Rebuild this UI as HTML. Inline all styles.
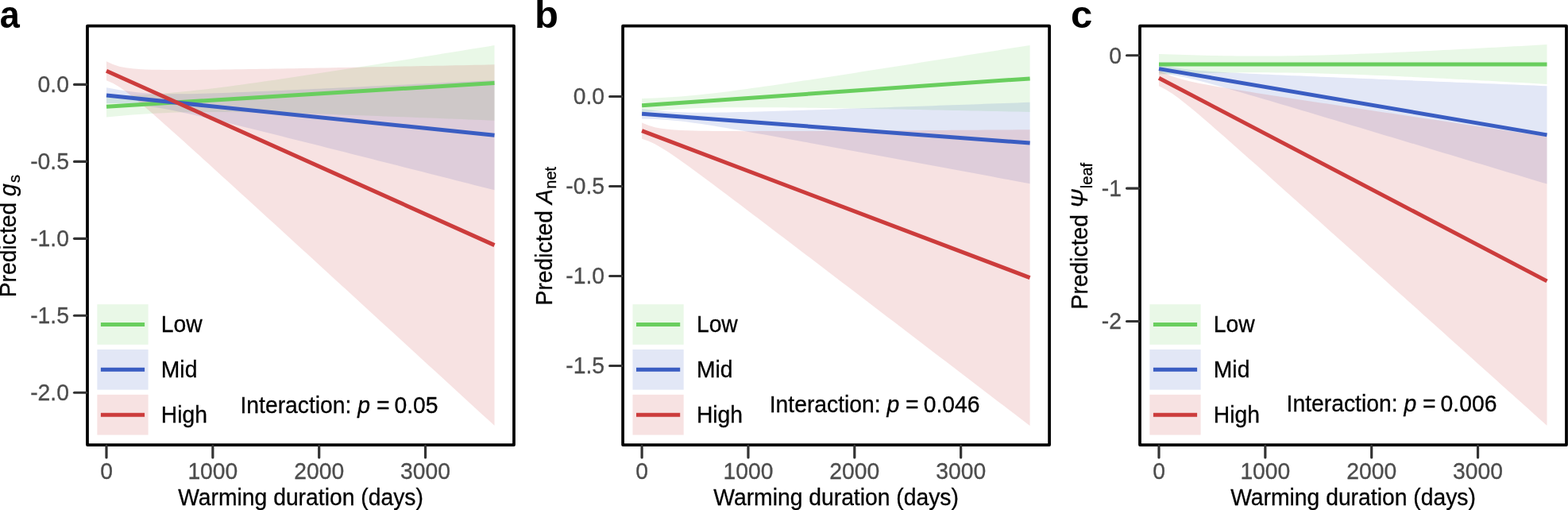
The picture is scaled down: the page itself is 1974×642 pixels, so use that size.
<!DOCTYPE html><html><head><meta charset="utf-8"><title>Predicted responses to warming duration</title><style>html,body{margin:0;padding:0;background:#fff;overflow:hidden}svg{display:block}text{font-family:"Liberation Sans", Arial, Helvetica, sans-serif}</style></head><body>
<svg width="1974" height="642" viewBox="0 0 1974 642">
<rect width="1974" height="642" fill="#fff"/>
<g>
<path d="M134 120.99 L142.14 120.82 L150.28 120.6 L158.43 120.33 L166.57 120.01 L174.71 119.62 L182.85 119.18 L190.99 118.68 L199.13 118.11 L207.28 117.49 L215.42 116.81 L223.56 116.08 L231.7 115.29 L239.84 114.46 L247.98 113.58 L256.12 112.66 L264.27 111.7 L272.41 110.71 L280.55 109.69 L288.69 108.63 L296.83 107.56 L304.98 106.46 L313.12 105.34 L321.26 104.2 L329.4 103.04 L337.54 101.87 L345.68 100.69 L353.82 99.49 L361.97 98.29 L370.11 97.07 L378.25 95.85 L386.39 94.61 L394.53 93.37 L402.68 92.12 L410.82 90.87 L418.96 89.61 L427.1 88.34 L435.24 87.07 L443.38 85.8 L451.52 84.52 L459.67 83.23 L467.81 81.95 L475.95 80.66 L484.09 79.36 L492.23 78.07 L500.38 76.77 L508.52 75.47 L516.66 74.16 L524.8 72.86 L532.94 71.55 L541.08 70.24 L549.23 68.93 L557.37 67.62 L565.51 66.3 L573.65 64.99 L581.79 63.67 L589.93 62.35 L598.08 61.03 L606.22 59.71 L614.36 58.39 L622.5 57.06 L622.5 151.74 L614.36 151.41 L606.22 151.08 L598.08 150.76 L589.93 150.44 L581.79 150.11 L573.65 149.79 L565.51 149.47 L557.37 149.16 L549.23 148.84 L541.08 148.52 L532.94 148.21 L524.8 147.9 L516.66 147.59 L508.52 147.29 L500.38 146.98 L492.23 146.68 L484.09 146.38 L475.95 146.08 L467.81 145.79 L459.67 145.5 L451.52 145.21 L443.38 144.93 L435.24 144.65 L427.1 144.38 L418.96 144.11 L410.82 143.85 L402.68 143.59 L394.53 143.34 L386.39 143.09 L378.25 142.85 L370.11 142.63 L361.97 142.41 L353.82 142.2 L345.68 142 L337.54 141.81 L329.4 141.64 L321.26 141.48 L313.12 141.34 L304.98 141.21 L296.83 141.11 L288.69 141.03 L280.55 140.97 L272.41 140.95 L264.27 140.95 L256.12 140.99 L247.98 141.07 L239.84 141.18 L231.7 141.35 L223.56 141.56 L215.42 141.82 L207.28 142.14 L199.13 142.51 L190.99 142.95 L182.85 143.44 L174.71 143.99 L166.57 144.61 L158.43 145.28 L150.28 146 L142.14 146.78 L134 147.61Z" fill="#69ce5e" fill-opacity="0.15"/>
<path d="M134 110.27 L142.14 111.82 L150.28 113.23 L158.43 114.5 L166.57 115.59 L174.71 116.49 L182.85 117.19 L190.99 117.7 L199.13 118.05 L207.28 118.25 L215.42 118.34 L223.56 118.34 L231.7 118.27 L239.84 118.14 L247.98 117.96 L256.12 117.75 L264.27 117.51 L272.41 117.25 L280.55 116.96 L288.69 116.67 L296.83 116.36 L304.98 116.03 L313.12 115.7 L321.26 115.36 L329.4 115.02 L337.54 114.66 L345.68 114.31 L353.82 113.95 L361.97 113.58 L370.11 113.21 L378.25 112.84 L386.39 112.46 L394.53 112.09 L402.68 111.71 L410.82 111.32 L418.96 110.94 L427.1 110.55 L435.24 110.17 L443.38 109.78 L451.52 109.39 L459.67 109 L467.81 108.61 L475.95 108.21 L484.09 107.82 L492.23 107.43 L500.38 107.03 L508.52 106.63 L516.66 106.24 L524.8 105.84 L532.94 105.44 L541.08 105.04 L549.23 104.65 L557.37 104.25 L565.51 103.85 L573.65 103.45 L581.79 103.04 L589.93 102.64 L598.08 102.24 L606.22 101.84 L614.36 101.44 L622.5 101.04 L622.5 239.36 L614.36 237.29 L606.22 235.22 L598.08 233.15 L589.93 231.08 L581.79 229.01 L573.65 226.93 L565.51 224.86 L557.37 222.79 L549.23 220.72 L541.08 218.66 L532.94 216.59 L524.8 214.52 L516.66 212.45 L508.52 210.39 L500.38 208.32 L492.23 206.25 L484.09 204.19 L475.95 202.13 L467.81 200.06 L459.67 198 L451.52 195.94 L443.38 193.88 L435.24 191.82 L427.1 189.77 L418.96 187.71 L410.82 185.66 L402.68 183.6 L394.53 181.55 L386.39 179.51 L378.25 177.46 L370.11 175.42 L361.97 173.38 L353.82 171.34 L345.68 169.31 L337.54 167.29 L329.4 165.26 L321.26 163.25 L313.12 161.24 L304.98 159.24 L296.83 157.24 L288.69 155.26 L280.55 153.3 L272.41 151.34 L264.27 149.41 L256.12 147.5 L247.98 145.62 L239.84 143.77 L231.7 141.97 L223.56 140.23 L215.42 138.56 L207.28 136.98 L199.13 135.51 L190.99 134.19 L182.85 133.03 L174.71 132.06 L166.57 131.29 L158.43 130.71 L150.28 130.31 L142.14 130.05 L134 129.93Z" fill="#3a5dc2" fill-opacity="0.15"/>
<path d="M134 77.3 L142.14 81.06 L150.28 83.64 L158.43 85.29 L166.57 86.34 L174.71 87 L182.85 87.42 L190.99 87.69 L199.13 87.86 L207.28 87.96 L215.42 88.01 L223.56 88.01 L231.7 88 L239.84 87.95 L247.98 87.89 L256.12 87.82 L264.27 87.74 L272.41 87.64 L280.55 87.54 L288.69 87.43 L296.83 87.32 L304.98 87.2 L313.12 87.07 L321.26 86.95 L329.4 86.82 L337.54 86.68 L345.68 86.55 L353.82 86.41 L361.97 86.27 L370.11 86.13 L378.25 85.99 L386.39 85.84 L394.53 85.7 L402.68 85.55 L410.82 85.4 L418.96 85.26 L427.1 85.11 L435.24 84.96 L443.38 84.81 L451.52 84.65 L459.67 84.5 L467.81 84.35 L475.95 84.2 L484.09 84.04 L492.23 83.89 L500.38 83.73 L508.52 83.58 L516.66 83.42 L524.8 83.27 L532.94 83.11 L541.08 82.95 L549.23 82.8 L557.37 82.64 L565.51 82.48 L573.65 82.32 L581.79 82.16 L589.93 82.01 L598.08 81.85 L606.22 81.69 L614.36 81.53 L622.5 81.37 L622.5 535.83 L614.36 528.36 L606.22 520.89 L598.08 513.42 L589.93 505.95 L581.79 498.49 L573.65 491.02 L565.51 483.55 L557.37 476.08 L549.23 468.61 L541.08 461.15 L532.94 453.68 L524.8 446.21 L516.66 438.75 L508.52 431.28 L500.38 423.82 L492.23 416.35 L484.09 408.89 L475.95 401.42 L467.81 393.96 L459.67 386.5 L451.52 379.04 L443.38 371.57 L435.24 364.11 L427.1 356.65 L418.96 349.19 L410.82 341.74 L402.68 334.28 L394.53 326.82 L386.39 319.37 L378.25 311.91 L370.11 304.46 L361.97 297.01 L353.82 289.56 L345.68 282.11 L337.54 274.67 L329.4 267.22 L321.26 259.78 L313.12 252.35 L304.98 244.91 L296.83 237.48 L288.69 230.06 L280.55 222.64 L272.41 215.23 L264.27 207.82 L256.12 200.43 L247.98 193.05 L239.84 185.68 L231.7 178.32 L223.56 171 L215.42 163.69 L207.28 156.43 L199.13 149.22 L190.99 142.08 L182.85 135.04 L174.71 128.15 L166.57 121.5 L158.43 115.24 L150.28 109.58 L142.14 104.85 L134 101.3Z" fill="#cc3c3c" fill-opacity="0.15"/>
<line x1="134" y1="134.3" x2="622.5" y2="104.4" stroke="#69ce5e" stroke-width="5"/>
<line x1="134" y1="120.1" x2="622.5" y2="170.2" stroke="#3a5dc2" stroke-width="5"/>
<line x1="134" y1="89.3" x2="622.5" y2="308.6" stroke="#cc3c3c" stroke-width="5"/>
<rect x="122.4" y="383.1" width="64.2" height="50.7" fill="#69ce5e" fill-opacity="0.15"/>
<line x1="126.9" y1="408.45" x2="182.1" y2="408.45" stroke="#69ce5e" stroke-width="5"/>
<text transform="translate(202.8 418.35) scale(1 1.04)" font-size="28.3" fill="#000" stroke="#000" stroke-width="0.3">Low</text>
<rect x="122.4" y="439.95" width="64.2" height="50.7" fill="#3a5dc2" fill-opacity="0.15"/>
<line x1="126.9" y1="465.3" x2="182.1" y2="465.3" stroke="#3a5dc2" stroke-width="5"/>
<text transform="translate(202.8 475.2) scale(1 1.04)" font-size="28.3" fill="#000" stroke="#000" stroke-width="0.3">Mid</text>
<rect x="122.4" y="496.8" width="64.2" height="50.7" fill="#cc3c3c" fill-opacity="0.15"/>
<line x1="126.9" y1="522.15" x2="182.1" y2="522.15" stroke="#cc3c3c" stroke-width="5"/>
<text transform="translate(202.8 532.05) scale(1 1.04)" font-size="28.3" fill="#000" stroke="#000" stroke-width="0.3">High</text>
<text transform="translate(427 520) scale(1 1.04)" font-size="28.3" fill="#000" stroke="#000" stroke-width="0.3" text-anchor="middle">Interaction: <tspan font-style="italic">p</tspan> =<tspan dx="-1.8"> 0.05</tspan></text>
<rect x="110" y="32.6" width="537" height="527.4" fill="none" stroke="#000" stroke-width="3.75" stroke-linejoin="round"/>
<line x1="134" y1="561.2" x2="134" y2="576" stroke="#333333" stroke-width="3.2" stroke-linecap="round"/>
<text transform="translate(134 603.2) scale(1 1.07)" font-size="28.3" fill="#4d4d4d" stroke="#4d4d4d" stroke-width="0.3" text-anchor="middle">0</text>
<line x1="267.85" y1="561.2" x2="267.85" y2="576" stroke="#333333" stroke-width="3.2" stroke-linecap="round"/>
<text transform="translate(267.85 603.2) scale(1 1.07)" font-size="28.3" fill="#4d4d4d" stroke="#4d4d4d" stroke-width="0.3" text-anchor="middle">1000</text>
<line x1="401.7" y1="561.2" x2="401.7" y2="576" stroke="#333333" stroke-width="3.2" stroke-linecap="round"/>
<text transform="translate(401.7 603.2) scale(1 1.07)" font-size="28.3" fill="#4d4d4d" stroke="#4d4d4d" stroke-width="0.3" text-anchor="middle">2000</text>
<line x1="535.55" y1="561.2" x2="535.55" y2="576" stroke="#333333" stroke-width="3.2" stroke-linecap="round"/>
<text transform="translate(535.55 603.2) scale(1 1.07)" font-size="28.3" fill="#4d4d4d" stroke="#4d4d4d" stroke-width="0.3" text-anchor="middle">3000</text>
<line x1="108.8" y1="106.4" x2="93.5" y2="106.4" stroke="#333333" stroke-width="3.1" stroke-linecap="round"/>
<text transform="translate(86.9 116.2) scale(1 1.07)" font-size="28.3" fill="#4d4d4d" stroke="#4d4d4d" stroke-width="0.3" text-anchor="end">0.0</text>
<line x1="108.8" y1="203.38" x2="93.5" y2="203.38" stroke="#333333" stroke-width="3.1" stroke-linecap="round"/>
<text transform="translate(86.9 213.18) scale(1 1.07)" font-size="28.3" fill="#4d4d4d" stroke="#4d4d4d" stroke-width="0.3" text-anchor="end">-0.5</text>
<line x1="108.8" y1="300.35" x2="93.5" y2="300.35" stroke="#333333" stroke-width="3.1" stroke-linecap="round"/>
<text transform="translate(86.9 310.15) scale(1 1.07)" font-size="28.3" fill="#4d4d4d" stroke="#4d4d4d" stroke-width="0.3" text-anchor="end">-1.0</text>
<line x1="108.8" y1="397.32" x2="93.5" y2="397.32" stroke="#333333" stroke-width="3.1" stroke-linecap="round"/>
<text transform="translate(86.9 407.12) scale(1 1.07)" font-size="28.3" fill="#4d4d4d" stroke="#4d4d4d" stroke-width="0.3" text-anchor="end">-1.5</text>
<line x1="108.8" y1="494.3" x2="93.5" y2="494.3" stroke="#333333" stroke-width="3.1" stroke-linecap="round"/>
<text transform="translate(86.9 504.1) scale(1 1.07)" font-size="28.3" fill="#4d4d4d" stroke="#4d4d4d" stroke-width="0.3" text-anchor="end">-2.0</text>
<text transform="translate(378.5 635.5) scale(1 1.04)" font-size="28.3" fill="#000" stroke="#000" stroke-width="0.3" text-anchor="middle">Warming duration (days)</text>
<text transform="translate(19.7 297.2) rotate(-90) scale(1 1.04)" font-size="28.3" fill="#000" stroke="#000" stroke-width="0.3" text-anchor="middle">Predicted <tspan font-style="italic">g</tspan><tspan font-size="20" dx="1.1" dy="5.4">s</tspan></text>
<text transform="translate(-0.2 34.7) scale(0.92 1)" font-size="49" font-weight="bold" fill="#000">a</text>
</g>
<g>
<path d="M808.1 124.1 L816.24 123.82 L824.38 123.48 L832.52 123.08 L840.67 122.61 L848.81 122.07 L856.95 121.45 L865.09 120.77 L873.23 120.02 L881.38 119.21 L889.52 118.34 L897.66 117.42 L905.8 116.45 L913.94 115.44 L922.08 114.4 L930.23 113.33 L938.37 112.23 L946.51 111.11 L954.65 109.97 L962.79 108.81 L970.93 107.64 L979.08 106.46 L987.22 105.26 L995.36 104.05 L1003.5 102.84 L1011.64 101.61 L1019.78 100.38 L1027.92 99.15 L1036.07 97.9 L1044.21 96.66 L1052.35 95.4 L1060.49 94.15 L1068.63 92.89 L1076.78 91.63 L1084.92 90.36 L1093.06 89.09 L1101.2 87.82 L1109.34 86.55 L1117.48 85.27 L1125.62 83.99 L1133.77 82.72 L1141.91 81.43 L1150.05 80.15 L1158.19 78.87 L1166.33 77.58 L1174.47 76.3 L1182.62 75.01 L1190.76 73.72 L1198.9 72.43 L1207.04 71.14 L1215.18 69.85 L1223.32 68.56 L1231.47 67.27 L1239.61 65.97 L1247.75 64.68 L1255.89 63.38 L1264.03 62.09 L1272.17 60.79 L1280.32 59.49 L1288.46 58.2 L1296.6 56.9 L1296.6 140.9 L1288.46 140.73 L1280.32 140.56 L1272.17 140.39 L1264.03 140.22 L1255.89 140.05 L1247.75 139.88 L1239.61 139.71 L1231.47 139.55 L1223.32 139.38 L1215.18 139.22 L1207.04 139.05 L1198.9 138.89 L1190.76 138.72 L1182.62 138.56 L1174.47 138.4 L1166.33 138.24 L1158.19 138.08 L1150.05 137.93 L1141.91 137.77 L1133.77 137.62 L1125.62 137.47 L1117.48 137.31 L1109.34 137.17 L1101.2 137.02 L1093.06 136.87 L1084.92 136.73 L1076.78 136.59 L1068.63 136.46 L1060.49 136.33 L1052.35 136.2 L1044.21 136.07 L1036.07 135.95 L1027.92 135.83 L1019.78 135.72 L1011.64 135.62 L1003.5 135.52 L995.36 135.43 L987.22 135.35 L979.08 135.28 L970.93 135.23 L962.79 135.18 L954.65 135.15 L946.51 135.14 L938.37 135.14 L930.23 135.17 L922.08 135.22 L913.94 135.31 L905.8 135.43 L897.66 135.59 L889.52 135.8 L881.38 136.05 L873.23 136.37 L865.09 136.74 L856.95 137.19 L848.81 137.7 L840.67 138.29 L832.52 138.94 L824.38 139.67 L816.24 140.45 L808.1 141.3Z" fill="#69ce5e" fill-opacity="0.15"/>
<path d="M808.1 136.9 L816.24 137.97 L824.38 138.92 L832.52 139.75 L840.67 140.43 L848.81 140.95 L856.95 141.33 L865.09 141.57 L873.23 141.71 L881.38 141.77 L889.52 141.75 L897.66 141.69 L905.8 141.58 L913.94 141.44 L922.08 141.28 L930.23 141.1 L938.37 140.9 L946.51 140.69 L954.65 140.47 L962.79 140.24 L970.93 140 L979.08 139.75 L987.22 139.5 L995.36 139.25 L1003.5 138.99 L1011.64 138.73 L1019.78 138.46 L1027.92 138.2 L1036.07 137.93 L1044.21 137.66 L1052.35 137.38 L1060.49 137.11 L1068.63 136.83 L1076.78 136.55 L1084.92 136.27 L1093.06 135.99 L1101.2 135.71 L1109.34 135.43 L1117.48 135.15 L1125.62 134.86 L1133.77 134.58 L1141.91 134.29 L1150.05 134.01 L1158.19 133.72 L1166.33 133.44 L1174.47 133.15 L1182.62 132.86 L1190.76 132.57 L1198.9 132.28 L1207.04 132 L1215.18 131.71 L1223.32 131.42 L1231.47 131.13 L1239.61 130.84 L1247.75 130.55 L1255.89 130.26 L1264.03 129.97 L1272.17 129.68 L1280.32 129.39 L1288.46 129.09 L1296.6 128.8 L1296.6 231.2 L1288.46 229.68 L1280.32 228.17 L1272.17 226.65 L1264.03 225.14 L1255.89 223.63 L1247.75 222.11 L1239.61 220.6 L1231.47 219.09 L1223.32 217.57 L1215.18 216.06 L1207.04 214.55 L1198.9 213.04 L1190.76 211.52 L1182.62 210.01 L1174.47 208.5 L1166.33 206.99 L1158.19 205.48 L1150.05 203.97 L1141.91 202.46 L1133.77 200.95 L1125.62 199.45 L1117.48 197.94 L1109.34 196.43 L1101.2 194.93 L1093.06 193.42 L1084.92 191.92 L1076.78 190.42 L1068.63 188.92 L1060.49 187.42 L1052.35 185.92 L1044.21 184.42 L1036.07 182.93 L1027.92 181.43 L1019.78 179.94 L1011.64 178.45 L1003.5 176.97 L995.36 175.49 L987.22 174.01 L979.08 172.54 L970.93 171.07 L962.79 169.61 L954.65 168.15 L946.51 166.71 L938.37 165.27 L930.23 163.85 L922.08 162.45 L913.94 161.06 L905.8 159.7 L897.66 158.37 L889.52 157.08 L881.38 155.84 L873.23 154.67 L865.09 153.59 L856.95 152.61 L848.81 151.77 L840.67 151.07 L832.52 150.52 L824.38 150.12 L816.24 149.86 L808.1 149.7Z" fill="#3a5dc2" fill-opacity="0.15"/>
<path d="M808.1 154.43 L816.24 157.81 L824.38 160.21 L832.52 161.8 L840.67 162.84 L848.81 163.53 L856.95 164 L865.09 164.33 L873.23 164.56 L881.38 164.74 L889.52 164.86 L897.66 164.95 L905.8 165.02 L913.94 165.07 L922.08 165.1 L930.23 165.12 L938.37 165.13 L946.51 165.13 L954.65 165.12 L962.79 165.11 L970.93 165.09 L979.08 165.07 L987.22 165.04 L995.36 165.02 L1003.5 164.98 L1011.64 164.95 L1019.78 164.92 L1027.92 164.88 L1036.07 164.84 L1044.21 164.8 L1052.35 164.76 L1060.49 164.71 L1068.63 164.67 L1076.78 164.62 L1084.92 164.58 L1093.06 164.53 L1101.2 164.48 L1109.34 164.44 L1117.48 164.39 L1125.62 164.34 L1133.77 164.29 L1141.91 164.24 L1150.05 164.18 L1158.19 164.13 L1166.33 164.08 L1174.47 164.03 L1182.62 163.98 L1190.76 163.92 L1198.9 163.87 L1207.04 163.82 L1215.18 163.76 L1223.32 163.71 L1231.47 163.65 L1239.61 163.6 L1247.75 163.54 L1255.89 163.49 L1264.03 163.43 L1272.17 163.38 L1280.32 163.32 L1288.46 163.27 L1296.6 163.21 L1296.6 535.99 L1288.46 529.77 L1280.32 523.54 L1272.17 517.32 L1264.03 511.1 L1255.89 504.88 L1247.75 498.66 L1239.61 492.43 L1231.47 486.21 L1223.32 479.99 L1215.18 473.77 L1207.04 467.55 L1198.9 461.33 L1190.76 455.11 L1182.62 448.89 L1174.47 442.67 L1166.33 436.45 L1158.19 430.23 L1150.05 424.02 L1141.91 417.8 L1133.77 411.58 L1125.62 405.36 L1117.48 399.15 L1109.34 392.93 L1101.2 386.72 L1093.06 380.5 L1084.92 374.29 L1076.78 368.08 L1068.63 361.86 L1060.49 355.65 L1052.35 349.44 L1044.21 343.23 L1036.07 337.03 L1027.92 330.82 L1019.78 324.62 L1011.64 318.42 L1003.5 312.22 L995.36 306.02 L987.22 299.82 L979.08 293.63 L970.93 287.44 L962.79 281.26 L954.65 275.08 L946.51 268.91 L938.37 262.74 L930.23 256.58 L922.08 250.44 L913.94 244.3 L905.8 238.18 L897.66 232.08 L889.52 226 L881.38 219.96 L873.23 213.97 L865.09 208.04 L856.95 202.2 L848.81 196.51 L840.67 191.03 L832.52 185.9 L824.38 181.33 L816.24 177.56 L808.1 174.77Z" fill="#cc3c3c" fill-opacity="0.15"/>
<line x1="808.1" y1="132.7" x2="1296.6" y2="98.9" stroke="#69ce5e" stroke-width="5"/>
<line x1="808.1" y1="143.3" x2="1296.6" y2="180" stroke="#3a5dc2" stroke-width="5"/>
<line x1="808.1" y1="164.6" x2="1296.6" y2="349.6" stroke="#cc3c3c" stroke-width="5"/>
<rect x="796.5" y="383.1" width="64.2" height="50.7" fill="#69ce5e" fill-opacity="0.15"/>
<line x1="801" y1="408.45" x2="856.2" y2="408.45" stroke="#69ce5e" stroke-width="5"/>
<text transform="translate(876.9 418.35) scale(1 1.04)" font-size="28.3" fill="#000" stroke="#000" stroke-width="0.3">Low</text>
<rect x="796.5" y="439.95" width="64.2" height="50.7" fill="#3a5dc2" fill-opacity="0.15"/>
<line x1="801" y1="465.3" x2="856.2" y2="465.3" stroke="#3a5dc2" stroke-width="5"/>
<text transform="translate(876.9 475.2) scale(1 1.04)" font-size="28.3" fill="#000" stroke="#000" stroke-width="0.3">Mid</text>
<rect x="796.5" y="496.8" width="64.2" height="50.7" fill="#cc3c3c" fill-opacity="0.15"/>
<line x1="801" y1="522.15" x2="856.2" y2="522.15" stroke="#cc3c3c" stroke-width="5"/>
<text transform="translate(876.9 532.05) scale(1 1.04)" font-size="28.3" fill="#000" stroke="#000" stroke-width="0.3">High</text>
<text transform="translate(1101.1 518.5) scale(1 1.04)" font-size="28.3" fill="#000" stroke="#000" stroke-width="0.3" text-anchor="middle">Interaction: <tspan font-style="italic">p</tspan> =<tspan dx="-1.8"> 0.046</tspan></text>
<rect x="784.1" y="32.6" width="537" height="527.4" fill="none" stroke="#000" stroke-width="3.75" stroke-linejoin="round"/>
<line x1="808.1" y1="561.2" x2="808.1" y2="576" stroke="#333333" stroke-width="3.2" stroke-linecap="round"/>
<text transform="translate(808.1 603.2) scale(1 1.07)" font-size="28.3" fill="#4d4d4d" stroke="#4d4d4d" stroke-width="0.3" text-anchor="middle">0</text>
<line x1="941.95" y1="561.2" x2="941.95" y2="576" stroke="#333333" stroke-width="3.2" stroke-linecap="round"/>
<text transform="translate(941.95 603.2) scale(1 1.07)" font-size="28.3" fill="#4d4d4d" stroke="#4d4d4d" stroke-width="0.3" text-anchor="middle">1000</text>
<line x1="1075.8" y1="561.2" x2="1075.8" y2="576" stroke="#333333" stroke-width="3.2" stroke-linecap="round"/>
<text transform="translate(1075.8 603.2) scale(1 1.07)" font-size="28.3" fill="#4d4d4d" stroke="#4d4d4d" stroke-width="0.3" text-anchor="middle">2000</text>
<line x1="1209.65" y1="561.2" x2="1209.65" y2="576" stroke="#333333" stroke-width="3.2" stroke-linecap="round"/>
<text transform="translate(1209.65 603.2) scale(1 1.07)" font-size="28.3" fill="#4d4d4d" stroke="#4d4d4d" stroke-width="0.3" text-anchor="middle">3000</text>
<line x1="782.9" y1="121.5" x2="767.6" y2="121.5" stroke="#333333" stroke-width="3.1" stroke-linecap="round"/>
<text transform="translate(761 131.3) scale(1 1.07)" font-size="28.3" fill="#4d4d4d" stroke="#4d4d4d" stroke-width="0.3" text-anchor="end">0.0</text>
<line x1="782.9" y1="234.49" x2="767.6" y2="234.49" stroke="#333333" stroke-width="3.1" stroke-linecap="round"/>
<text transform="translate(761 244.29) scale(1 1.07)" font-size="28.3" fill="#4d4d4d" stroke="#4d4d4d" stroke-width="0.3" text-anchor="end">-0.5</text>
<line x1="782.9" y1="347.47" x2="767.6" y2="347.47" stroke="#333333" stroke-width="3.1" stroke-linecap="round"/>
<text transform="translate(761 357.27) scale(1 1.07)" font-size="28.3" fill="#4d4d4d" stroke="#4d4d4d" stroke-width="0.3" text-anchor="end">-1.0</text>
<line x1="782.9" y1="460.45" x2="767.6" y2="460.45" stroke="#333333" stroke-width="3.1" stroke-linecap="round"/>
<text transform="translate(761 470.25) scale(1 1.07)" font-size="28.3" fill="#4d4d4d" stroke="#4d4d4d" stroke-width="0.3" text-anchor="end">-1.5</text>
<text transform="translate(1052.6 635.5) scale(1 1.04)" font-size="28.3" fill="#000" stroke="#000" stroke-width="0.3" text-anchor="middle">Warming duration (days)</text>
<text transform="translate(694.9 297.2) rotate(-90) scale(1 1.04)" font-size="28.3" fill="#000" stroke="#000" stroke-width="0.3" text-anchor="middle">Predicted <tspan font-style="italic">A</tspan><tspan font-size="20" dx="0.5" dy="5.0">net</tspan></text>
<text transform="translate(672.9 34.7) scale(1.0 1)" font-size="49" font-weight="bold" fill="#000">b</text>
</g>
<g>
<path d="M1459 67.96 L1467.14 68.26 L1475.28 68.54 L1483.42 68.81 L1491.57 69.07 L1499.71 69.31 L1507.85 69.53 L1515.99 69.73 L1524.13 69.91 L1532.28 70.07 L1540.42 70.21 L1548.56 70.32 L1556.7 70.42 L1564.84 70.49 L1572.98 70.53 L1581.12 70.55 L1589.27 70.55 L1597.41 70.52 L1605.55 70.46 L1613.69 70.39 L1621.83 70.29 L1629.97 70.16 L1638.12 70.02 L1646.26 69.85 L1654.4 69.66 L1662.54 69.45 L1670.68 69.23 L1678.83 68.99 L1686.97 68.73 L1695.11 68.46 L1703.25 68.17 L1711.39 67.87 L1719.53 67.55 L1727.67 67.23 L1735.82 66.89 L1743.96 66.55 L1752.1 66.19 L1760.24 65.83 L1768.38 65.46 L1776.53 65.08 L1784.67 64.7 L1792.81 64.3 L1800.95 63.91 L1809.09 63.5 L1817.23 63.09 L1825.38 62.68 L1833.52 62.26 L1841.66 61.84 L1849.8 61.41 L1857.94 60.98 L1866.08 60.55 L1874.22 60.11 L1882.37 59.67 L1890.51 59.23 L1898.65 58.79 L1906.79 58.34 L1914.93 57.89 L1923.08 57.44 L1931.22 56.98 L1939.36 56.53 L1947.5 56.07 L1947.5 105.93 L1939.36 105.47 L1931.22 105.01 L1923.08 104.55 L1914.93 104.1 L1906.79 103.64 L1898.65 103.19 L1890.51 102.74 L1882.37 102.3 L1874.22 101.86 L1866.08 101.42 L1857.94 100.98 L1849.8 100.55 L1841.66 100.12 L1833.52 99.69 L1825.38 99.27 L1817.23 98.85 L1809.09 98.44 L1800.95 98.03 L1792.81 97.63 L1784.67 97.24 L1776.53 96.85 L1768.38 96.47 L1760.24 96.09 L1752.1 95.73 L1743.96 95.37 L1735.82 95.02 L1727.67 94.68 L1719.53 94.35 L1711.39 94.04 L1703.25 93.73 L1695.11 93.44 L1686.97 93.16 L1678.83 92.9 L1670.68 92.66 L1662.54 92.43 L1654.4 92.22 L1646.26 92.03 L1638.12 91.86 L1629.97 91.71 L1621.83 91.58 L1613.69 91.48 L1605.55 91.4 L1597.41 91.34 L1589.27 91.31 L1581.12 91.3 L1572.98 91.32 L1564.84 91.36 L1556.7 91.42 L1548.56 91.51 L1540.42 91.63 L1532.28 91.76 L1524.13 91.92 L1515.99 92.1 L1507.85 92.29 L1499.71 92.51 L1491.57 92.75 L1483.42 93 L1475.28 93.26 L1467.14 93.54 L1459 93.84Z" fill="#69ce5e" fill-opacity="0.15"/>
<path d="M1459 81.18 L1467.14 82.96 L1475.28 84.53 L1483.42 85.87 L1491.57 86.99 L1499.71 87.91 L1507.85 88.69 L1515.99 89.35 L1524.13 89.94 L1532.28 90.47 L1540.42 90.95 L1548.56 91.41 L1556.7 91.84 L1564.84 92.26 L1572.98 92.66 L1581.12 93.05 L1589.27 93.43 L1597.41 93.8 L1605.55 94.17 L1613.69 94.53 L1621.83 94.89 L1629.97 95.24 L1638.12 95.59 L1646.26 95.94 L1654.4 96.29 L1662.54 96.63 L1670.68 96.97 L1678.83 97.31 L1686.97 97.65 L1695.11 97.99 L1703.25 98.33 L1711.39 98.66 L1719.53 99 L1727.67 99.33 L1735.82 99.67 L1743.96 100 L1752.1 100.33 L1760.24 100.66 L1768.38 100.99 L1776.53 101.32 L1784.67 101.65 L1792.81 101.98 L1800.95 102.31 L1809.09 102.64 L1817.23 102.97 L1825.38 103.3 L1833.52 103.63 L1841.66 103.96 L1849.8 104.28 L1857.94 104.61 L1866.08 104.94 L1874.22 105.27 L1882.37 105.59 L1890.51 105.92 L1898.65 106.25 L1906.79 106.57 L1914.93 106.9 L1923.08 107.23 L1931.22 107.55 L1939.36 107.88 L1947.5 108.2 L1947.5 231.6 L1939.36 229.15 L1931.22 226.7 L1923.08 224.24 L1914.93 221.79 L1906.79 219.34 L1898.65 216.89 L1890.51 214.44 L1882.37 211.99 L1874.22 209.54 L1866.08 207.09 L1857.94 204.64 L1849.8 202.2 L1841.66 199.75 L1833.52 197.3 L1825.38 194.85 L1817.23 192.4 L1809.09 189.95 L1800.95 187.51 L1792.81 185.06 L1784.67 182.61 L1776.53 180.17 L1768.38 177.72 L1760.24 175.27 L1752.1 172.83 L1743.96 170.38 L1735.82 167.94 L1727.67 165.5 L1719.53 163.06 L1711.39 160.61 L1703.25 158.17 L1695.11 155.73 L1686.97 153.29 L1678.83 150.86 L1670.68 148.42 L1662.54 145.99 L1654.4 143.55 L1646.26 141.12 L1638.12 138.7 L1629.97 136.27 L1621.83 133.85 L1613.69 131.43 L1605.55 129.01 L1597.41 126.6 L1589.27 124.2 L1581.12 121.8 L1572.98 119.42 L1564.84 117.04 L1556.7 114.68 L1548.56 112.33 L1540.42 110.01 L1532.28 107.72 L1524.13 105.47 L1515.99 103.28 L1507.85 101.17 L1499.71 99.17 L1491.57 97.32 L1483.42 95.66 L1475.28 94.22 L1467.14 93.01 L1459 92.02Z" fill="#3a5dc2" fill-opacity="0.15"/>
<path d="M1459 88.23 L1467.14 92.53 L1475.28 95.93 L1483.42 98.62 L1491.57 100.82 L1499.71 102.72 L1507.85 104.42 L1515.99 106 L1524.13 107.49 L1532.28 108.92 L1540.42 110.3 L1548.56 111.66 L1556.7 112.99 L1564.84 114.3 L1572.98 115.6 L1581.12 116.88 L1589.27 118.16 L1597.41 119.42 L1605.55 120.68 L1613.69 121.94 L1621.83 123.19 L1629.97 124.43 L1638.12 125.68 L1646.26 126.92 L1654.4 128.15 L1662.54 129.38 L1670.68 130.62 L1678.83 131.85 L1686.97 133.07 L1695.11 134.3 L1703.25 135.53 L1711.39 136.75 L1719.53 137.97 L1727.67 139.2 L1735.82 140.42 L1743.96 141.64 L1752.1 142.86 L1760.24 144.07 L1768.38 145.29 L1776.53 146.51 L1784.67 147.73 L1792.81 148.94 L1800.95 150.16 L1809.09 151.37 L1817.23 152.59 L1825.38 153.8 L1833.52 155.02 L1841.66 156.23 L1849.8 157.45 L1857.94 158.66 L1866.08 159.87 L1874.22 161.09 L1882.37 162.3 L1890.51 163.51 L1898.65 164.72 L1906.79 165.94 L1914.93 167.15 L1923.08 168.36 L1931.22 169.57 L1939.36 170.78 L1947.5 171.99 L1947.5 535.81 L1939.36 528.5 L1931.22 521.18 L1923.08 513.87 L1914.93 506.56 L1906.79 499.25 L1898.65 491.94 L1890.51 484.63 L1882.37 477.31 L1874.22 470 L1866.08 462.69 L1857.94 455.38 L1849.8 448.07 L1841.66 440.76 L1833.52 433.45 L1825.38 426.15 L1817.23 418.84 L1809.09 411.53 L1800.95 404.22 L1792.81 396.91 L1784.67 389.61 L1776.53 382.3 L1768.38 374.99 L1760.24 367.69 L1752.1 360.38 L1743.96 353.08 L1735.82 345.78 L1727.67 338.47 L1719.53 331.17 L1711.39 323.87 L1703.25 316.57 L1695.11 309.28 L1686.97 301.98 L1678.83 294.68 L1670.68 287.39 L1662.54 280.1 L1654.4 272.81 L1646.26 265.52 L1638.12 258.24 L1629.97 250.96 L1621.83 243.68 L1613.69 236.4 L1605.55 229.14 L1597.41 221.87 L1589.27 214.62 L1581.12 207.37 L1572.98 200.13 L1564.84 192.9 L1556.7 185.69 L1548.56 178.5 L1540.42 171.33 L1532.28 164.19 L1524.13 157.1 L1515.99 150.07 L1507.85 143.12 L1499.71 136.3 L1491.57 129.67 L1483.42 123.35 L1475.28 117.52 L1467.14 112.39 L1459 108.17Z" fill="#cc3c3c" fill-opacity="0.15"/>
<line x1="1459" y1="80.9" x2="1947.5" y2="81" stroke="#69ce5e" stroke-width="5"/>
<line x1="1459" y1="86.6" x2="1947.5" y2="169.9" stroke="#3a5dc2" stroke-width="5"/>
<line x1="1459" y1="98.2" x2="1947.5" y2="353.9" stroke="#cc3c3c" stroke-width="5"/>
<rect x="1447.4" y="383.1" width="64.2" height="50.7" fill="#69ce5e" fill-opacity="0.15"/>
<line x1="1451.9" y1="408.45" x2="1507.1" y2="408.45" stroke="#69ce5e" stroke-width="5"/>
<text transform="translate(1527.8 418.35) scale(1 1.04)" font-size="28.3" fill="#000" stroke="#000" stroke-width="0.3">Low</text>
<rect x="1447.4" y="439.95" width="64.2" height="50.7" fill="#3a5dc2" fill-opacity="0.15"/>
<line x1="1451.9" y1="465.3" x2="1507.1" y2="465.3" stroke="#3a5dc2" stroke-width="5"/>
<text transform="translate(1527.8 475.2) scale(1 1.04)" font-size="28.3" fill="#000" stroke="#000" stroke-width="0.3">Mid</text>
<rect x="1447.4" y="496.8" width="64.2" height="50.7" fill="#cc3c3c" fill-opacity="0.15"/>
<line x1="1451.9" y1="522.15" x2="1507.1" y2="522.15" stroke="#cc3c3c" stroke-width="5"/>
<text transform="translate(1527.8 532.05) scale(1 1.04)" font-size="28.3" fill="#000" stroke="#000" stroke-width="0.3">High</text>
<text transform="translate(1752 517.5) scale(1 1.04)" font-size="28.3" fill="#000" stroke="#000" stroke-width="0.3" text-anchor="middle">Interaction: <tspan font-style="italic">p</tspan> =<tspan dx="-1.8"> 0.006</tspan></text>
<rect x="1435" y="32.6" width="537" height="527.4" fill="none" stroke="#000" stroke-width="3.75" stroke-linejoin="round"/>
<line x1="1459" y1="561.2" x2="1459" y2="576" stroke="#333333" stroke-width="3.2" stroke-linecap="round"/>
<text transform="translate(1459 603.2) scale(1 1.07)" font-size="28.3" fill="#4d4d4d" stroke="#4d4d4d" stroke-width="0.3" text-anchor="middle">0</text>
<line x1="1592.85" y1="561.2" x2="1592.85" y2="576" stroke="#333333" stroke-width="3.2" stroke-linecap="round"/>
<text transform="translate(1592.85 603.2) scale(1 1.07)" font-size="28.3" fill="#4d4d4d" stroke="#4d4d4d" stroke-width="0.3" text-anchor="middle">1000</text>
<line x1="1726.7" y1="561.2" x2="1726.7" y2="576" stroke="#333333" stroke-width="3.2" stroke-linecap="round"/>
<text transform="translate(1726.7 603.2) scale(1 1.07)" font-size="28.3" fill="#4d4d4d" stroke="#4d4d4d" stroke-width="0.3" text-anchor="middle">2000</text>
<line x1="1860.55" y1="561.2" x2="1860.55" y2="576" stroke="#333333" stroke-width="3.2" stroke-linecap="round"/>
<text transform="translate(1860.55 603.2) scale(1 1.07)" font-size="28.3" fill="#4d4d4d" stroke="#4d4d4d" stroke-width="0.3" text-anchor="middle">3000</text>
<line x1="1433.8" y1="69.7" x2="1418.5" y2="69.7" stroke="#333333" stroke-width="3.1" stroke-linecap="round"/>
<text transform="translate(1411.9 79.5) scale(1 1.07)" font-size="28.3" fill="#4d4d4d" stroke="#4d4d4d" stroke-width="0.3" text-anchor="end">0</text>
<line x1="1433.8" y1="237.1" x2="1418.5" y2="237.1" stroke="#333333" stroke-width="3.1" stroke-linecap="round"/>
<text transform="translate(1411.9 246.9) scale(1 1.07)" font-size="28.3" fill="#4d4d4d" stroke="#4d4d4d" stroke-width="0.3" text-anchor="end">-1</text>
<line x1="1433.8" y1="404.5" x2="1418.5" y2="404.5" stroke="#333333" stroke-width="3.1" stroke-linecap="round"/>
<text transform="translate(1411.9 414.3) scale(1 1.07)" font-size="28.3" fill="#4d4d4d" stroke="#4d4d4d" stroke-width="0.3" text-anchor="end">-2</text>
<text transform="translate(1703.5 635.5) scale(1 1.04)" font-size="28.3" fill="#000" stroke="#000" stroke-width="0.3" text-anchor="middle">Warming duration (days)</text>
<text transform="translate(1368.9 297.2) rotate(-90) scale(1 1.04)" font-size="28.3" fill="#000" stroke="#000" stroke-width="0.3" text-anchor="middle">Predicted <tspan font-style="italic">Ψ</tspan><tspan font-size="20" dx="1.4" dy="5.4">leaf</tspan></text>
<text transform="translate(1347.9 34.7) scale(1.0 1)" font-size="49" font-weight="bold" fill="#000">c</text>
</g>
</svg></body></html>
